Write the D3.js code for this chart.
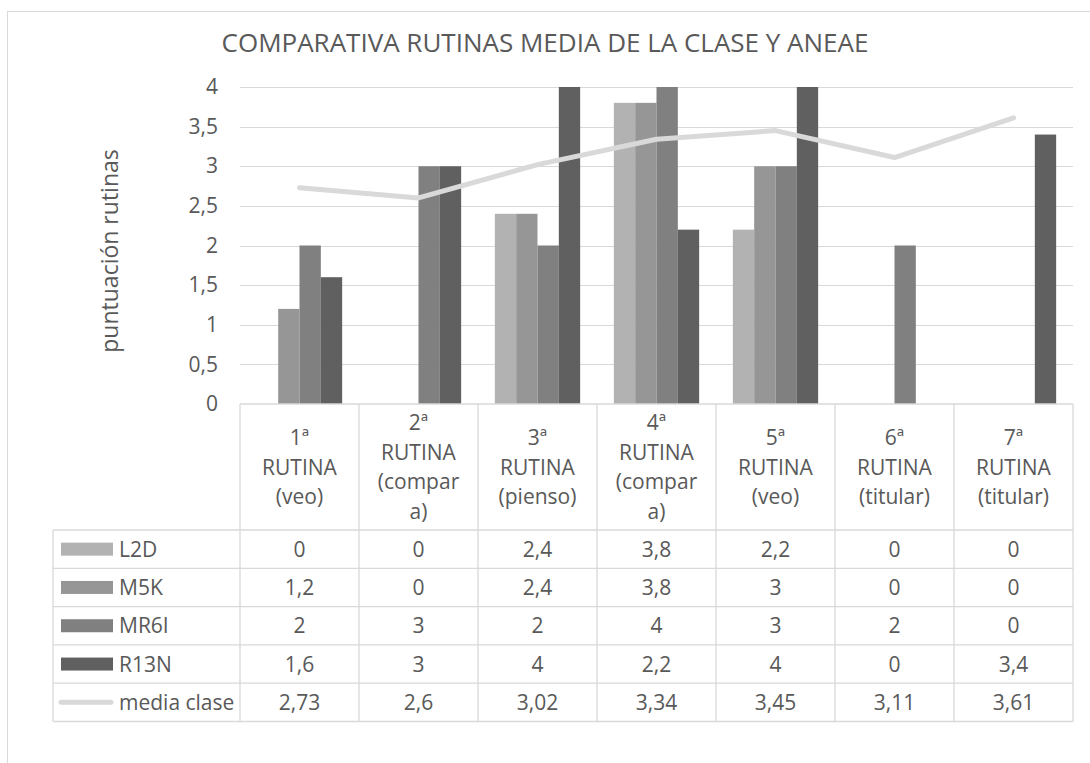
<!DOCTYPE html>
<html>
<head>
<meta charset="utf-8">
<script src="https://cdn.jsdelivr.net/npm/d3@7"></script>
<style>
  html, body { margin: 0; padding: 0; background: #fff; }
  svg { display: block; font-family: "Open Sans", sans-serif; }
</style>
</head>
<body>
<svg id="chart"></svg>
<script>
const categories = ["1ª RUTINA (veo)", "2ª RUTINA (compara)", "3ª RUTINA (pienso)", "4ª RUTINA (compara)", "5ª RUTINA (veo)", "6ª RUTINA (titular)", "7ª RUTINA (titular)"];
const categoryLines = [
    ["1ª", "RUTINA", "(veo)"],
    ["2ª", "RUTINA", "(compar", "a)"],
    ["3ª", "RUTINA", "(pienso)"],
    ["4ª", "RUTINA", "(compar", "a)"],
    ["5ª", "RUTINA", "(veo)"],
    ["6ª", "RUTINA", "(titular)"],
    ["7ª", "RUTINA", "(titular)"]
];
const seriesNames = ["L2D", "M5K", "MR6I", "R13N"];
const L2D = [0, 0, 2.4, 3.8, 2.2, 0, 0];
const M5K = [1.2, 0, 2.4, 3.8, 3, 0, 0];
const MR6I = [2, 3, 2, 4, 3, 2, 0];
const R13N = [1.6, 3, 4, 2.2, 4, 0, 3.4];
const mediaClase = [2.73, 2.6, 3.02, 3.34, 3.45, 3.11, 3.61];
const yTicks = [0, 0.5, 1, 1.5, 2, 2.5, 3, 3.5, 4];

const width = 1090, height = 763;
const plot = { left: 240, right: 1073, top: 87, bottom: 404 };
const tableLeft = 53, headerBottom = 530, rowH = 38.3;
const textColor = "#595959", gridColor = "#d9d9d9";
const barColors = d3.scaleOrdinal().domain(seriesNames).range(["#b2b2b2", "#969696", "#808080", "#606060"]);
const lineColor = "#d9d9d9";
const fontSize = 21;

const barSeries = [L2D, M5K, MR6I, R13N];
const fmt = v => String(v).replace(".", ",");

const svg = d3.select("#chart").attr("width", width).attr("height", height);

// chart frame
svg.append("rect")
    .attr("x", 7.5).attr("y", 11.5)
    .attr("width", width).attr("height", height)
    .attr("fill", "none").attr("stroke", gridColor).attr("stroke-width", 1);

svg.append("text")
    .attr("x", 545).attr("y", 52)
    .attr("text-anchor", "middle")
    .attr("font-size", 26)
    .attr("fill", textColor)
    .text("COMPARATIVA RUTINAS MEDIA DE LA CLASE Y ANEAE");

const x = d3.scaleBand().domain(categories).range([plot.left, plot.right]);
const xs = d3.scaleBand().domain(seriesNames).range([0, x.bandwidth()]).paddingOuter(0.79);
const y = d3.scaleLinear().domain([0, 4]).range([plot.bottom, plot.top]);

// gridlines
svg.append("g").selectAll("line")
    .data(yTicks.slice(1))
    .join("line")
    .attr("x1", plot.left).attr("x2", plot.right)
    .attr("y1", d => Math.round(y(d)) + 0.5).attr("y2", d => Math.round(y(d)) + 0.5)
    .attr("stroke", gridColor).attr("stroke-width", 1.2);

// y axis labels
const yAxis = svg.append("g")
    .attr("transform", `translate(${plot.left - 22},0)`)
    .call(d3.axisLeft(y).tickValues(yTicks).tickSize(0).tickPadding(0).tickFormat(fmt));
yAxis.select(".domain").remove();
yAxis.selectAll("text")
    .attr("font-family", "Open Sans")
    .attr("font-size", fontSize)
    .attr("fill", textColor);

svg.append("text")
    .attr("transform", `translate(118,251) rotate(-90)`)
    .attr("text-anchor", "middle")
    .attr("font-size", 23)
    .attr("fill", textColor)
    .text("puntuación rutinas");

// bars
const barData = [];
seriesNames.forEach((s, si) => {
    barSeries[si].forEach((v, ci) => barData.push({ series: s, cat: categories[ci], value: v }));
});
svg.append("g").selectAll("rect")
    .data(barData.filter(d => d.value > 0))
    .join("rect")
    .attr("x", d => x(d.cat) + xs(d.series))
    .attr("width", xs.bandwidth())
    .attr("y", d => y(d.value))
    .attr("height", d => y(0) - y(d.value))
    .attr("fill", d => barColors(d.series));

// media clase line
svg.append("path")
    .datum(mediaClase)
    .attr("fill", "none")
    .attr("stroke", lineColor)
    .attr("stroke-width", 5)
    .attr("stroke-linecap", "round")
    .attr("stroke-linejoin", "round")
    .attr("d", d3.line()
        .x((d, i) => x(categories[i]) + x.bandwidth() / 2)
        .y(d => y(d)));

// data table
const table = svg.append("g");
const tableBottom = headerBottom + rowH * 5;
const lineAttr = sel => sel.attr("stroke", gridColor).attr("stroke-width", 1.3);

table.append("line").call(lineAttr)
    .attr("x1", plot.left).attr("x2", plot.right)
    .attr("y1", plot.bottom).attr("y2", plot.bottom);
table.selectAll(".hline")
    .data(d3.range(6))
    .join("line").call(lineAttr)
    .attr("x1", tableLeft).attr("x2", plot.right)
    .attr("y1", i => headerBottom + i * rowH).attr("y2", i => headerBottom + i * rowH);
table.selectAll(".vline")
    .data(categories.map(c => x(c)).concat([plot.right]))
    .join("line").call(lineAttr)
    .attr("x1", d => d).attr("x2", d => d)
    .attr("y1", plot.bottom).attr("y2", tableBottom);
table.append("line").call(lineAttr)
    .attr("x1", tableLeft).attr("x2", tableLeft)
    .attr("y1", headerBottom).attr("y2", tableBottom);

// header labels
const headerMid = (plot.bottom + headerBottom) / 2;
categories.forEach((c, ci) => {
    const lines = categoryLines[ci];
    const t = table.append("text")
        .attr("text-anchor", "middle")
        .attr("font-size", fontSize)
        .attr("fill", textColor);
    lines.forEach((ln, li) => {
        t.append("tspan")
            .attr("x", x(c) + x.bandwidth() / 2)
            .attr("y", headerMid + 7.5 + (li - (lines.length - 1) / 2) * 29.5)
            .text(ln);
    });
});

// rows
const rowSeries = seriesNames.concat(["media clase"]);
const rowValues = barSeries.concat([mediaClase]);
rowSeries.forEach((name, ri) => {
    const cy = headerBottom + rowH * ri + rowH / 2;
    if (ri < 4) {
        table.append("rect")
            .attr("x", 61).attr("y", cy - 6.5)
            .attr("width", 52).attr("height", 13)
            .attr("fill", barColors(name));
    } else {
        table.append("line")
            .attr("x1", 61).attr("x2", 111)
            .attr("y1", cy).attr("y2", cy)
            .attr("stroke", lineColor).attr("stroke-width", 5)
            .attr("stroke-linecap", "round");
    }
    table.append("text")
        .attr("x", 119).attr("y", cy + 7.5)
        .attr("font-size", fontSize)
        .attr("fill", textColor)
        .text(name);
    rowValues[ri].forEach((v, ci) => {
        table.append("text")
            .attr("x", x(categories[ci]) + x.bandwidth() / 2)
            .attr("y", cy + 7.5)
            .attr("text-anchor", "middle")
            .attr("font-size", fontSize)
            .attr("fill", textColor)
            .text(fmt(v));
    });
});
</script>
</body>
</html>
